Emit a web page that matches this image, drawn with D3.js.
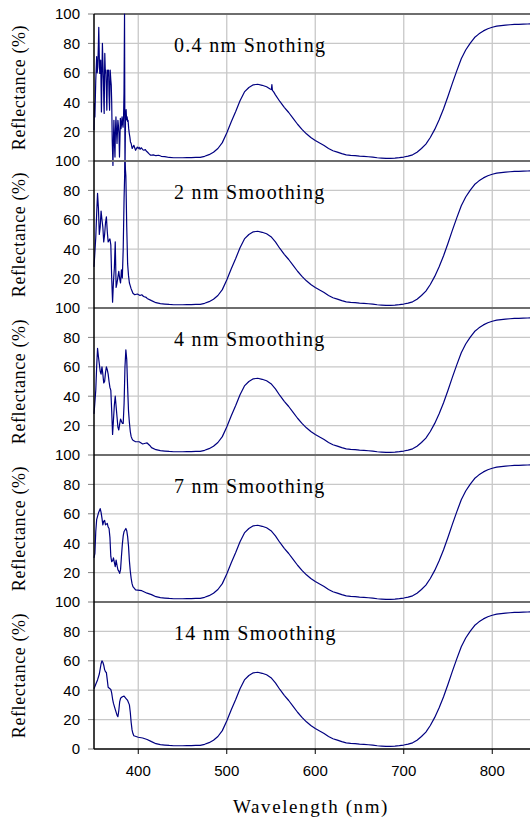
<!DOCTYPE html>
<html><head><meta charset="utf-8">
<script src="https://cdn.jsdelivr.net/npm/d3@7"></script>
<style>html,body{margin:0;padding:0;background:#fff}svg{display:block}</style>
</head><body>
<script>
// ---------- DATA ----------
const panelTitles = ["0.4 nm Snothing", "2 nm Smoothing", "4 nm Smoothing", "7 nm Smoothing", "14 nm Smoothing"];
const xTicks = [400, 500, 600, 700, 800];
const yTicks = [0, 20, 40, 60, 80, 100];
const xLabel = "Wavelength (nm)";
const yLabel = "Reflectance (%)";

// shared smooth part of the spectrum [wavelength, reflectance]
const sharedSpectrum = [
[395,9],[400,8],[405,7.5],[410,6.5],[415,5],[420,3.6],[425,3],[430,2.7],[435,2.4],[440,2.2],
[445,2.2],[450,2.2],[455,2.3],[460,2.3],[465,2.4],[470,2.5],[475,3.2],[480,4.3],[485,6],[490,8.5],
[495,12.5],[500,19],[505,26.5],[510,33.5],[515,41],[520,47],[525,50],[530,51.8],[535,52.2],[540,51.5],
[545,50.5],[550,48.5],[555,45],[560,40.5],[565,36.5],[570,33],[575,29],[580,25],[585,21.5],[590,18.5],
[595,16],[600,14],[605,12.2],[610,10.5],[615,8.5],[620,7],[625,6],[630,5],[635,4.2],[640,3.8],
[645,3.6],[650,3.3],[655,3.1],[660,2.9],[665,2.6],[670,2.2],[675,2],[680,1.8],[685,1.8],[690,2],
[695,2.3],[700,2.7],[705,3.3],[710,4.2],[715,6],[720,8.5],[725,11.5],[730,16],[735,21.5],[740,28],
[745,35.5],[750,44],[755,53],[760,61.5],[765,69.5],[770,75.5],[775,80],[780,84],[785,86.5],[790,88.5],
[795,90],[800,91],[805,91.7],[810,92.1],[815,92.4],[820,92.7],[825,92.9],[830,93],[835,93.1],[840,93.2],
[845,93.3],[850,93.4]
];

// panel-specific noisy short-wavelength parts
const uv04 = [
[350,21],[350.5,39],[351,30],[352,55],[353,71],[353.6,60],[354.3,64],[355,80],[355.4,91],[356,70],
[356.5,59.6],[357,66],[357.6,68.6],[358,50],[358.4,33.4],[359,60],[359.5,80],[360,68],[360.7,55],[361.1,40],
[361.5,32.3],[362.2,73.2],[362.8,60],[363.4,61.8],[364,48],[364.5,34.6],[365.3,61.8],[365.9,58],[366.5,61.8],[367,45],
[367.6,34.6],[368.3,61.8],[369,55],[369.5,51.6],[370,40],[370.6,14],[371,6],[371.4,-3],[372,15],[372.5,27.7],
[373,14],[373.7,2.7],[374.2,20],[374.8,30],[375.4,20],[376,12],[376.5,20],[377,27.7],[377.6,24],[378.2,18.7],
[378.8,2.7],[379.3,15],[379.8,29],[380.5,22],[381.1,25],[381.7,30],[382.3,25],[382.8,23],[383.4,30],[383.9,46],
[384.5,100],[385,-8],[385.6,30],[386.3,35],[386.8,28],[387.4,30],[388,27],[388.5,27.7],[389.2,22],[389.8,19],
[390.5,16.4],[391.2,13],[392,11.9],[392.6,10],[393.2,8.5],[394,9.5],[395,10.7],[396,9],[397,7.3],[398,8.5],
[398.9,9.5],[400,8.5],[401,9.3],[402,8],[402.7,8.5],[403.5,9],[404.5,8.2],[405.5,7.5],[406.5,7.3],[408,7.8],
[409,6.8],[410.3,6.1],[412,5],[414,3.9],[417,4.2],[420,3.6],[423,3.9],[426,3.2],[430,3.0]
];
const uv2 = [
[350,28],[351,38],[352,48],[353,64],[354,78],[355,68],[356,50],[357,55],[358,66],[359,60],
[360,55],[361,45],[362,50],[363,58],[364,62],[365,52],[366,45],[367,46],[368,47],[369,43],
[370,20],[371,4],[372,18],[373,27],[374,45],[375,14],[376,17],[377,21],[378,25],[379,20],
[380,17],[381,26],[382,20.5],[383,40],[384,75],[385,99],[386,90],[387,55],[388,30],[389,22],
[390,17],[391,15],[392,13],[393,11.5],[394,10],[396,9],[399,9.5],[402,8.5],[404,9],[406,7.8],[409,7.2]
];
const uv4 = [
[350,28],[351,36],[352,44],[353,60],[354,72.5],[355,67],[356,62],[357,57],[358,55],[359,60],
[360,55],[361,49],[362,50],[363,56],[364,60],[365,58],[366,55],[367,50],[368,46],[369,44],
[370,30],[371,14],[372,24],[373,34],[374,40],[375,33],[376,26],[377,19],[378,17],[379,21],
[380,24.5],[381,23],[382,21.5],[383,21.5],[384,35],[385,60],[386,71.5],[387,65],[388,46],[389,30],
[390,22],[391,16],[392,12.5],[393,11],[394,10],[397,9],[401,9],[405,7.5],[408,8],[410,8.2],[413,6.5]
];
const uv7 = [
[350,30],[351,33],[352,48],[353,56],[355,60.5],[357,63.5],[358,61],[359,57],[360,52.5],[361,55],
[362,55.5],[363,52.5],[364,53],[365,53.5],[366,51],[367,50],[368,44],[369,31],[370,27.5],[371,28],
[372,30],[373,27],[374,24],[375,28.5],[376,25],[377,22],[378,21],[379,19.5],[380,22],[381,31],
[382,39],[383,45],[384,48],[385,49],[386,50],[387,48.5],[388,44.5],[389,38],[390,28],[391,21],
[392,16],[393,12.5],[394,10.5],[397,8.2],[404,7.7],[410,6]
];
const uv14 = [
[350,41],[352,44],[354,47],[356,51],[358,58],[359,60],[360,59],[361,57],[362,54],[363,52.5],
[364,52],[365,47],[366,42],[368,41],[369,40.5],[370,38],[371,34],[372,31],[374,27],[376,23],
[377,22],[378,26],[379,32],[380,34.5],[382,35.5],[384,36],[386,34.5],[388,33],[390,30],[391,25],
[392,18],[393,13],[394,10.5]
];
// small spike on the green peak of the unsmoothed panel
const spike04 = [[549,49],[550.4,48.6],[551,52],[551.6,48],[553,47]];

const panelUV = [uv04, uv2, uv4, uv7, uv14];

// ---------- LAYOUT ----------
const W = 530, H = 819;
const mLeft = 94, mTop = 14, panelH = 147;
const nP = panelTitles.length;

const svg = d3.select("body").append("svg").attr("width", W).attr("height", H);

// plot area runs past the right edge of the picture
const x = d3.scaleLinear().domain([350, 850]).range([mLeft, 536.5]);
const xEnd = W;

const gridColor = "#c8c8c8";
const sepColor = "#6e6e6e";
const lineColor = "#000080";
const sansFont = "'Liberation Sans', Arial, sans-serif";
const serifFont = "'Liberation Serif', 'Times New Roman', serif";

for (let i = 0; i < nP; i++) {
  const y0 = mTop + i * panelH;
  const y = d3.scaleLinear().domain([0, 100]).range([y0 + panelH, y0]);
  const g = svg.append("g");

  g.selectAll("line.hg").data([20, 40, 60, 80]).enter().append("line")
    .attr("x1", mLeft).attr("x2", xEnd)
    .attr("y1", d => y(d)).attr("y2", d => y(d))
    .attr("stroke", gridColor).attr("stroke-width", 1.3);

  g.selectAll("line.vg").data(xTicks).enter().append("line")
    .attr("x1", d => x(d)).attr("x2", d => x(d))
    .attr("y1", y0).attr("y2", y0 + panelH)
    .attr("stroke", gridColor).attr("stroke-width", 1.3);

  const ticksHere = i === nP - 1 ? yTicks : yTicks.filter(t => t > 0);
  g.selectAll("line.yt").data(ticksHere).enter().append("line")
    .attr("x1", mLeft - 6).attr("x2", mLeft)
    .attr("y1", d => y(d)).attr("y2", d => y(d))
    .attr("stroke", "#808080").attr("stroke-width", 1);
  g.selectAll("text.yl").data(ticksHere).enter().append("text")
    .attr("x", mLeft - 14).attr("y", d => y(d))
    .attr("dy", "0.36em").attr("text-anchor", "end")
    .attr("font-family", sansFont).attr("font-size", 15).attr("fill", "#000")
    .text(d => d);

  g.append("line").attr("x1", mLeft).attr("x2", xEnd)
    .attr("y1", y(100)).attr("y2", y(100))
    .attr("stroke", sepColor).attr("stroke-width", 2);

  g.append("text")
    .attr("transform", `translate(25,${y0 + panelH / 2}) rotate(-90)`)
    .attr("text-anchor", "middle")
    .attr("font-family", serifFont).attr("font-size", 18).attr("letter-spacing", 0.6)
    .attr("fill", "#000").text(yLabel);

  g.append("text").attr("x", 174).attr("y", y0 + 38)
    .attr("font-family", serifFont).attr("font-size", 20).attr("letter-spacing", 1.3)
    .attr("fill", "#000").text(panelTitles[i]);

  const uv = panelUV[i];
  const uvMax = d3.max(uv, d => d[0]);
  let pts = uv.concat(sharedSpectrum.filter(d => d[0] > uvMax));
  if (i === 0) {
    const lo = d3.min(spike04, d => d[0]), hi = d3.max(spike04, d => d[0]);
    pts = pts.filter(d => d[0] < lo || d[0] > hi).concat(spike04).sort((a, b) => a[0] - b[0]);
  }
  const line = d3.line().x(d => x(d[0])).y(d => y(d[1]));
  g.append("path").datum(pts).attr("d", line)
    .attr("fill", "none").attr("stroke", lineColor).attr("stroke-width", 1.2)
    .attr("stroke-linejoin", "round");
}

const bottomY = mTop + nP * panelH;
svg.append("line").attr("x1", mLeft).attr("x2", xEnd)
  .attr("y1", bottomY).attr("y2", bottomY).attr("stroke", "#000").attr("stroke-width", 1.5);
svg.selectAll("line.xt").data(xTicks).enter().append("line")
  .attr("x1", d => x(d)).attr("x2", d => x(d))
  .attr("y1", bottomY).attr("y2", bottomY + 5)
  .attr("stroke", "#000").attr("stroke-width", 1);
svg.selectAll("text.xl").data(xTicks).enter().append("text")
  .attr("x", d => x(d)).attr("y", bottomY + 27)
  .attr("text-anchor", "middle")
  .attr("font-family", sansFont).attr("font-size", 15).attr("fill", "#000")
  .text(d => d);

svg.append("line").attr("x1", mLeft).attr("x2", mLeft)
  .attr("y1", mTop).attr("y2", bottomY).attr("stroke", "#000").attr("stroke-width", 1.5);

svg.append("text").attr("x", 311).attr("y", 813)
  .attr("text-anchor", "middle")
  .attr("font-family", serifFont).attr("font-size", 19).attr("letter-spacing", 1.6)
  .attr("fill", "#000").text(xLabel);
</script>
</body></html>
